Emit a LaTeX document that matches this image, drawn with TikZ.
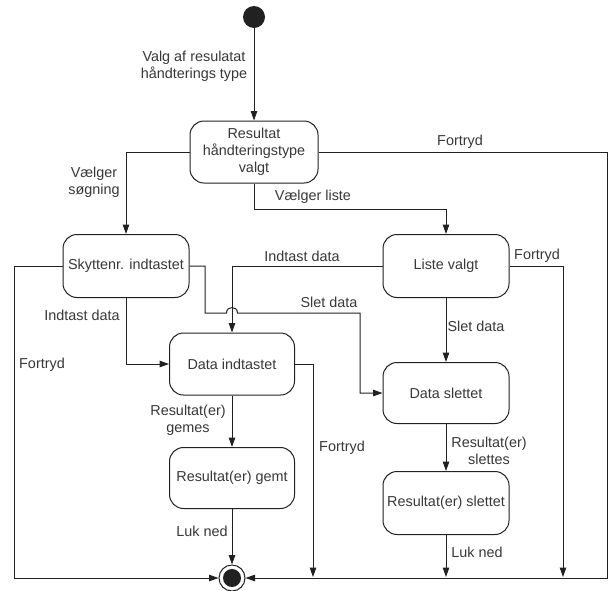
\documentclass[tikz,border=0pt]{standalone}
\usepackage{fontspec}
\setmainfont{Liberation Sans}
\usetikzlibrary{arrows.meta}
\definecolor{ink}{rgb}{0.13,0.13,0.13}
\definecolor{txt}{rgb}{0.22,0.22,0.22}
\begin{document}
\begin{tikzpicture}[x=1pt,y=-1pt,
  every node/.style={font=\fontsize{14.4}{17}\selectfont, text=txt},
  state/.style={draw=ink, line width=1pt, rounded corners=14pt, fill=white,
    align=center, inner sep=0pt},
  lbl/.style={inner sep=0pt, align=center},
  flow/.style={draw=ink, line width=1pt},
  tip/.style={flow, -{Triangle[length=9.5pt,width=6.5pt]}}]
\useasboundingbox[fill=white] (0,0) rectangle (610,590);

% states
\node[circle, fill=ink, minimum size=22pt, inner sep=0pt] (start) at (254,17) {};
\node[state, minimum width=128pt, minimum height=62pt] (res) at (254,152)
  {Resultat\\håndteringstype\\valgt};
\node[state, minimum width=126pt, minimum height=63pt] (sky) at (126,266) {Skyttenr. indtastet};
\node[state, minimum width=126pt, minimum height=63pt] (liste) at (446,266) {Liste valgt};
\node[state, minimum width=125pt, minimum height=62pt] (dind) at (232,364) {Data indtastet};
\node[state, minimum width=126pt, minimum height=61pt] (dslet) at (446,393) {Data slettet};
\node[state, minimum width=125pt, minimum height=61pt] (rgemt) at (232,478) {Resultat(er) gemt};
\node[state, minimum width=126pt, minimum height=63pt] (rslet) at (446,503) {Resultat(er) slettet};
\node[circle, draw=ink, line width=1pt, fill=white, minimum size=26pt, inner sep=0pt] (end) at (232,578) {};
\fill[ink] (end.center) circle (9pt);

% bends and drop points
\coordinate (cL) at (14,578);
\coordinate (cR) at (607,578);
\coordinate (d1) at (313,577);
\coordinate (d2) at (446,577);
\coordinate (d3) at (563,577);

% transitions
\draw[tip] (start) -- (res);
\draw[tip] (res.west) -- (126,152) -- (sky.north);
\draw[tip] (res.east) -- (607,152) -- (cR) -- (end.east);
\draw[tip] (res.south) -- (254,209) -- (446,209) -- (liste.north);
\draw[tip] (sky.west) -- (14,266) -- (cL) -- (end.west);
\draw[tip] (sky.east) -- (205,266) -- (205,313) -- (226.5,313)
  .. controls (226.5,305.67) and (237.5,305.67) .. (237.5,313)
  -- (360,313) -- (360,393) -- (dslet.west);
\draw[tip] (sky.south) -- (126,364) -- (dind.west);
\draw[tip] (liste.west) -- (232,266) -- (dind.north);
\draw[tip] (liste.east) -- (563,266) -- (d3);
\draw[tip] (liste.south) -- (dslet.north);
\draw[tip] (dind.east) -- (313,364) -- (d1);
\draw[tip] (dind.south) -- (rgemt.north);
\draw[tip] (rgemt.south) -- (end.north);
\draw[tip] (dslet.south) -- (rslet.north);
\draw[tip] (rslet.south) -- (d2);

% transition labels
\node[lbl] (l1) at (194,66) {Valg af resulatat\\håndterings type};
\node[lbl] (l2) at (94,182) {Vælger\\søgning};
\node[lbl] (l3) at (460,142) {Fortryd};
\node[lbl] (l4) at (313,197) {Vælger liste};
\node[lbl] (l5) at (42,365) {Fortryd};
\node[lbl] (l6) at (329,302) {Slet data};
\node[lbl] (l7) at (82,315) {Indtast data};
\node[lbl] (l8) at (302,256) {Indtast data};
\node[lbl] (l9) at (537,256) {Fortryd};
\node[lbl] (l10) at (476,326) {Slet data};
\node[lbl] (l11) at (342,448) {Fortryd};
\node[lbl] (l12) at (188,420) {Resultat(er)\\gemes};
\node[lbl] (l13) at (202,531) {Luk ned};
\node[lbl] (l14) at (489,451) {Resultat(er)\\slettes};
\node[lbl] (l15) at (477,552) {Luk ned};
\end{tikzpicture}
\end{document}
